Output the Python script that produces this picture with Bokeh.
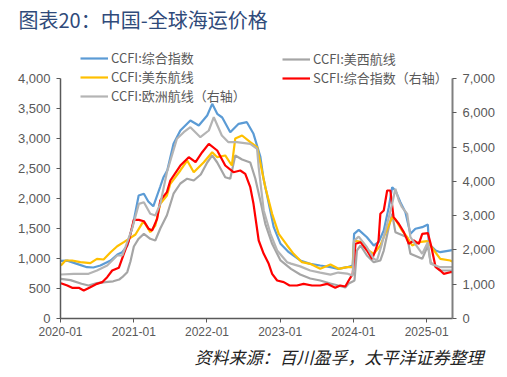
import pandas as pd
from bokeh.plotting import figure
from bokeh.models import (Range1d, LinearAxis, FixedTicker, NumeralTickFormatter,
                          DatetimeTickFormatter, Legend, LegendItem, Title)
from bokeh.embed import file_html
from bokeh.resources import INLINE

TITLE = "图表20：中国-全球海运价格"
SOURCE = "资料来源：百川盈孚，太平洋证券整理"
X_TICKS = ["2020-01-01", "2021-01-01", "2022-01-01", "2023-01-01", "2024-01-01", "2025-01-01"]
LEFT_TICKS = [0, 500, 1000, 1500, 2000, 2500, 3000, 3500, 4000]
RIGHT_TICKS = [0, 1000, 2000, 3000, 4000, 5000, 6000, 7000]
X_START, X_END = "2020-01-01", "2025-05-10"

# CCFI:综合指数 (left axis)
ccfi_dates = ["2020-01-03", "2020-02-04", "2020-03-23", "2020-05-12", "2020-06-13", "2020-07-18",
              "2020-09-07", "2020-10-11", "2020-11-04", "2020-11-30", "2020-12-30", "2021-01-25",
              "2021-02-20", "2021-03-14", "2021-04-08", "2021-05-13", "2021-05-29", "2021-06-17",
              "2021-07-18", "2021-08-21", "2021-10-10", "2021-11-21", "2022-01-02", "2022-01-27",
              "2022-02-21", "2022-03-18", "2022-04-27", "2022-06-08", "2022-07-19", "2022-08-21",
              "2022-09-24", "2022-10-09", "2022-10-28", "2022-11-30", "2023-01-03", "2023-02-13",
              "2023-04-11", "2023-05-31", "2023-07-20", "2023-09-09", "2023-10-18", "2023-12-01",
              "2023-12-29", "2024-01-05", "2024-01-28", "2024-03-09", "2024-04-12", "2024-05-06",
              "2024-06-01", "2024-06-26", "2024-07-13", "2024-07-29", "2024-08-23", "2024-09-17",
              "2024-10-12", "2024-11-06", "2024-12-10", "2025-01-07", "2025-01-12", "2025-02-15",
              "2025-03-10", "2025-05-09"]
ccfi_vals = [960, 965, 911, 855, 850, 883,
             967, 1067, 1105, 1217, 1600, 2050,
             2078, 1950, 1870, 2200, 2355, 2470,
             2911, 3133, 3300, 3217, 3383, 3578,
             3411, 3350, 3105, 3245, 3272, 3078,
             2700, 2350, 2050, 1522, 1245, 1105,
             967, 911, 883, 855, 828, 855,
             883, 1411, 1478, 1355, 1217, 1272,
             1467, 1855, 2189, 2133, 1939, 1772,
             1411, 1495, 1522, 1567, 1245, 1133,
             1105, 1140]

# CCFI:美东航线 (left axis)
usec_dates = ["2020-01-03", "2020-01-26", "2020-02-28", "2020-04-09", "2020-05-29", "2020-07-01",
              "2020-08-03", "2020-09-07", "2020-10-10", "2020-11-12", "2020-12-15", "2021-01-09",
              "2021-02-12", "2021-02-22", "2021-03-24", "2021-04-18", "2021-05-13", "2021-06-15",
              "2021-07-02", "2021-08-21", "2021-09-24", "2021-10-27", "2021-12-16", "2022-01-27",
              "2022-02-21", "2022-04-02", "2022-05-05", "2022-05-22", "2022-06-25", "2022-08-05",
              "2022-09-08", "2022-10-19", "2022-11-22", "2022-12-25", "2023-02-05", "2023-03-09",
              "2023-04-20", "2023-05-31", "2023-07-20", "2023-09-09", "2023-10-20", "2023-12-01",
              "2023-12-29", "2024-01-05", "2024-02-14", "2024-03-17", "2024-04-12", "2024-05-15",
              "2024-06-18", "2024-07-13", "2024-07-29", "2024-08-31", "2024-09-26", "2024-10-21",
              "2024-11-23", "2025-01-04", "2025-02-07", "2025-03-10", "2025-04-29", "2025-05-09"]
usec_vals = [883, 967, 967, 939, 922, 994,
             983, 1105, 1205, 1272, 1344, 1400,
             1590, 1600, 1439, 1550, 1911, 2050,
             2245, 2467, 2633, 2438, 2605, 2772,
             2689, 2717, 2550, 3000, 3050, 2939,
             2855, 2189, 1745, 1411, 1217, 1078,
             939, 911, 828, 900, 828, 855,
             855, 1300, 1272, 1133, 1078, 1217,
             1495, 1689, 1650, 1467, 1355, 1217,
             1272, 1289, 1133, 994, 967, 950]

# CCFI:美西航线 (left axis)
uswc_dates = ["2020-01-03", "2020-02-20", "2020-04-15", "2020-05-20", "2020-07-01", "2020-08-12",
              "2020-09-20", "2020-10-20", "2020-11-04", "2020-11-29", "2020-12-15", "2021-01-01",
              "2021-01-25", "2021-02-20", "2021-03-24", "2021-04-18", "2021-05-13", "2021-06-15",
              "2021-07-18", "2021-08-21", "2021-09-24", "2021-10-27", "2021-12-01", "2022-01-02",
              "2022-01-27", "2022-02-21", "2022-04-02", "2022-04-27", "2022-05-22", "2022-06-25",
              "2022-08-05", "2022-08-30", "2022-09-24", "2022-10-19", "2022-11-22", "2023-01-03",
              "2023-02-24", "2023-04-11", "2023-05-31", "2023-07-20", "2023-09-09", "2023-10-18",
              "2023-11-22", "2023-12-09", "2023-12-29", "2024-01-07", "2024-01-19", "2024-02-06",
              "2024-03-09", "2024-04-12", "2024-05-15", "2024-06-01", "2024-06-26", "2024-07-13",
              "2024-07-29", "2024-09-26", "2024-10-12", "2024-12-10", "2025-01-07", "2025-01-21",
              "2025-03-10", "2025-05-09"]
uswc_vals = [661, 640, 580, 550, 590, 605,
             620, 650, 688, 772, 950, 1200,
             1330, 1411, 1328, 1300, 1500, 1720,
             2080, 2250, 2330, 2300, 2400, 2600,
             2720, 2600, 2355, 2330, 2717, 2650,
             2600, 2333, 1967, 1578, 1245, 967,
             828, 733, 667, 633, 583, 550,
             517, 583, 617, 633, 1133, 1217,
             1050, 938, 967, 1133, 1522, 1745,
             1439, 1355, 1078, 994, 1217, 938,
             800, 800]

# SCFI:综合指数 (right axis)
scfi_dates = ["2020-01-03", "2020-02-04", "2020-02-28", "2020-04-01", "2020-04-26", "2020-05-29",
              "2020-07-01", "2020-07-27", "2020-08-21", "2020-09-15", "2020-10-18", "2020-11-12",
              "2020-12-07", "2021-01-01", "2021-01-26", "2021-02-20", "2021-03-16", "2021-04-02",
              "2021-04-27", "2021-05-13", "2021-06-15", "2021-07-02", "2021-08-21", "2021-10-02",
              "2021-11-05", "2021-12-08", "2022-01-10", "2022-02-21", "2022-04-02", "2022-05-13",
              "2022-06-16", "2022-07-11", "2022-08-05", "2022-08-21", "2022-09-16", "2022-10-11",
              "2022-11-05", "2022-11-22", "2022-12-17", "2023-01-19", "2023-02-17", "2023-03-26",
              "2023-04-28", "2023-06-09", "2023-07-20", "2023-08-23", "2023-10-03", "2023-10-28",
              "2023-11-22", "2023-12-09", "2023-12-29", "2024-01-12", "2024-02-06", "2024-03-09",
              "2024-04-04", "2024-04-20", "2024-05-06", "2024-05-15", "2024-06-01", "2024-06-18",
              "2024-07-04", "2024-07-20", "2024-08-15", "2024-09-09", "2024-10-04", "2024-10-29",
              "2024-11-23", "2024-12-10", "2025-01-07", "2025-01-21", "2025-02-15", "2025-03-10",
              "2025-03-27", "2025-04-29", "2025-05-09"]
scfi_vals = [1030, 962, 895, 895, 817, 914,
             1011, 1060, 1205, 1400, 1478, 1886,
             2275, 2878, 2878, 2838, 2615, 2567,
             2907, 3442, 3685, 4025, 4462, 4705,
             4559, 4850, 5095, 4900, 4462, 4267,
             4317, 4220, 3830, 3345, 2275, 1886,
             1595, 1303, 1108, 1060, 962, 962,
             1011, 962, 962, 1011, 895, 962,
             933, 1108, 1303, 2178, 2226, 1983,
             1741, 1983, 2275, 3053, 3150, 3733,
             3733, 2955, 2762, 2518, 2178, 2275,
             2178, 2470, 2490, 2178, 1497, 1400,
             1303, 1350, 1350]

# CCFI:欧洲航线 (right axis)
eu_dates = ["2020-01-03", "2020-03-07", "2020-05-20", "2020-07-01", "2020-08-21", "2020-10-10",
            "2020-11-04", "2020-11-20", "2020-12-23", "2021-01-26", "2021-02-20", "2021-03-24",
            "2021-04-18", "2021-05-13", "2021-06-15", "2021-08-04", "2021-09-07", "2021-10-10",
            "2021-11-29", "2022-01-10", "2022-02-04", "2022-03-16", "2022-04-18", "2022-05-30",
            "2022-08-05", "2022-09-08", "2022-09-16", "2022-10-11", "2022-11-14", "2022-12-17",
            "2023-02-05", "2023-02-24", "2023-04-11", "2023-05-31", "2023-07-20", "2023-09-09",
            "2023-10-18", "2023-12-01", "2023-12-29", "2024-01-05", "2024-01-28", "2024-03-09",
            "2024-04-12", "2024-04-28", "2024-05-23", "2024-06-18", "2024-07-13", "2024-07-29",
            "2024-08-15", "2024-08-31", "2024-09-26", "2024-10-12", "2024-12-10", "2025-01-07",
            "2025-01-21", "2025-03-10", "2025-05-09"]
eu_vals = [1283, 1303, 1303, 1400, 1546, 1838,
           1838, 2080, 2615, 3344, 3393, 3053,
           3004, 3344, 4267, 5241, 5434, 5580,
           5288, 5483, 5871, 5337, 5142, 5142,
           5095, 4950, 4400, 3150, 2470, 1983,
           1642, 1600, 1520, 1400, 1340, 1280,
           1340, 1310, 1250, 2270, 2390, 2080,
           1741, 1692, 2178, 2762, 3345, 3783,
           3442, 3247, 3053, 2372, 1886, 2226,
           1595, 1497, 1500]

LABELS = ["CCFI:综合指数", "CCFI:美东航线", "CCFI:欧洲航线（右轴）", "CCFI:美西航线", "SCFI:综合指数（右轴）"]
COLORS = {"ccfi": "#5B9BD5", "usec": "#FFC000", "uswc": "#A5A5A5", "scfi": "#FF0000", "eu": "#B4B4B4"}

FONT = "Noto Sans CJK SC"
NUMFONT = "Liberation Sans"
TXT = "#595959"

frame_h_px = 273.0
axis_h_px = 240.0
p = figure(width=507, height=377, output_backend="svg", toolbar_location=None,
           x_axis_type="datetime",
           x_range=Range1d(pd.Timestamp(X_START), pd.Timestamp(X_END)),
           y_range=Range1d(0, LEFT_TICKS[-1] * frame_h_px / axis_h_px),
           min_border_left=60, min_border_right=55, min_border_top=45, min_border_bottom=59,
           background_fill_color="white", border_fill_color="white")
p.outline_line_color = None
p.xgrid.visible = False
p.ygrid.visible = False
p.extra_y_ranges = {"right": Range1d(0, RIGHT_TICKS[-1] * frame_h_px / axis_h_px)}

# spacer between frame and title (pushes the title up)
p.add_layout(Title(text=" ", text_font_size="2px", standoff=8), "above")

# title above
p.title.text = TITLE
p.title.align = "left"
p.title.offset = -42
p.title.standoff = 0
p.title.text_font = FONT
p.title.text_font_size = "20px"
p.title.text_font_style = "normal"
p.title.text_color = "#2F4A7A"

def style_axis(ax, font_size):
    ax.axis_line_color = "#595959"
    ax.axis_line_width = 1.5
    ax.major_tick_line_color = "#595959"
    ax.major_tick_out = 4
    ax.major_tick_in = 0
    ax.minor_tick_out = 0
    ax.minor_tick_in = 0
    ax.major_label_text_color = TXT
    ax.major_label_text_font = NUMFONT
    ax.major_label_text_font_size = font_size
    ax.major_label_standoff = 6

xa = p.xaxis[0]
xa.ticker = FixedTicker(ticks=[pd.Timestamp(d).value // 10**6 for d in X_TICKS])
fmt = "%Y-%m"
xa.formatter = DatetimeTickFormatter(years=fmt, months=fmt, days=fmt, hours=fmt,
                                     minutes=fmt, seconds=fmt, milliseconds=fmt)
style_axis(xa, "12px")
xa.major_label_standoff = 4

ya = p.yaxis[0]
ya.ticker = FixedTicker(ticks=LEFT_TICKS)
ya.formatter = NumeralTickFormatter(format="0,0")
ya.bounds = (LEFT_TICKS[0], LEFT_TICKS[-1])
style_axis(ya, "13px")

ra = LinearAxis(y_range_name="right", ticker=FixedTicker(ticks=RIGHT_TICKS),
                formatter=NumeralTickFormatter(format="0,0"),
                bounds=(RIGHT_TICKS[0], RIGHT_TICKS[-1]))
style_axis(ra, "13px")
ra.axis_line_color = "#7F7F7F"
ra.axis_line_width = 2
p.add_layout(ra, "right")

# source below
src = Title(text=SOURCE, align="right", offset=-31, standoff=6,
            text_font=FONT, text_font_size="17px", text_font_style="italic",
            text_color="#222222")
p.add_layout(src, "below")

lw = 2.2
r_ccfi = p.line(pd.to_datetime(ccfi_dates), ccfi_vals, line_color=COLORS["ccfi"], line_width=lw)
r_uswc = p.line(pd.to_datetime(uswc_dates), uswc_vals, line_color=COLORS["uswc"], line_width=lw)
r_usec = p.line(pd.to_datetime(usec_dates), usec_vals, line_color=COLORS["usec"], line_width=lw)
r_scfi = p.line(pd.to_datetime(scfi_dates), scfi_vals, line_color=COLORS["scfi"], line_width=lw,
                y_range_name="right")
r_eu = p.line(pd.to_datetime(eu_dates), eu_vals, line_color=COLORS["eu"], line_width=lw,
              y_range_name="right")

def make_legend(items, loc):
    lg = Legend(items=items, location=loc, orientation="vertical",
                glyph_width=28, glyph_height=18, label_height=18, spacing=0,
                label_standoff=3, padding=0, margin=0,
                label_text_font=FONT, label_text_font_size="13px", label_text_color=TXT,
                border_line_alpha=0, background_fill_alpha=0)
    p.add_layout(lg, "center")

make_legend([LegendItem(label=LABELS[0], renderers=[r_ccfi]),
             LegendItem(label=LABELS[1], renderers=[r_usec]),
             LegendItem(label=LABELS[2], renderers=[r_eu])], (20, 213))
make_legend([LegendItem(label=LABELS[3], renderers=[r_uswc]),
             LegendItem(label=LABELS[4], renderers=[r_scfi])], (222, 231))

open("out.html", "w").write(file_html(p, INLINE))
